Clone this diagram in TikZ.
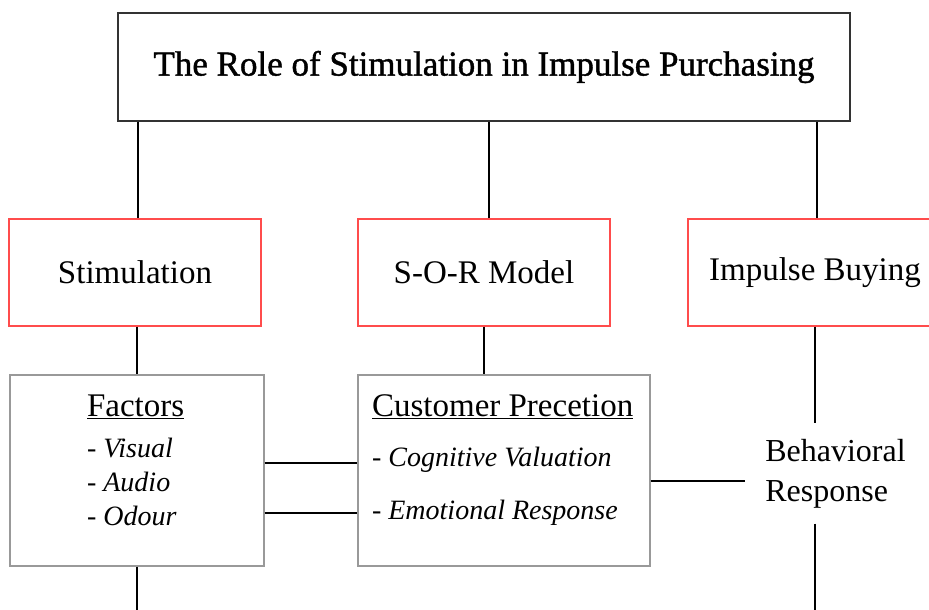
\documentclass[tikz,border=0pt]{standalone}
\usepackage{fontspec}
\setmainfont{Liberation Serif}
\newfontface\titlefont{Liberation Serif}[FakeBold=1.2]
\usetikzlibrary{positioning}
\tikzset{redbox/.style={draw=red!70!white,line width=1.3pt,rectangle,minimum width=252pt,minimum height=107pt,font=\fontsize{33}{40}\selectfont}}
\tikzset{greybox/.style={draw=black!40,line width=1.2pt,rectangle,minimum height=191pt}}
\tikzset{lst/.style={align=left,inner sep=0pt,font=\fontsize{28}{34}\selectfont}}

\begin{document}
\begin{tikzpicture}[x=1pt,y=-1pt,line width=1.3pt]
\clip (0,0) rectangle (929,610);
\node[draw=black!80,minimum width=732pt,minimum height=108pt,font=\titlefont\fontsize{35}{40}\selectfont] (title) at (484,67) {The Role of Stimulation in Impulse Purchasing};
\node[redbox] (stim) at (135,272.5) {Stimulation};
\node[redbox] (sor) at (484,272.5) {S-O-R Model};
\node[redbox,minimum width=254pt] (imp) at (815,272.5) {Impulse Buying};
\node[greybox,minimum width=254pt] (fac) at (137,470.5) {};
\node[greybox,minimum width=292pt] (cp) at (504,470.5) {};
\node[lst,below right=20pt and 77pt of fac.north west] (factxt)
  {{\fontsize{33}{40}\selectfont\underline{Factors}}\\[7pt]\textit{- Visual}\\\textit{- Audio}\\\textit{- Odour}};
\node[lst,font=\fontsize{28}{53}\selectfont,below right=20pt and 14pt of cp.north west] (cptxt)
  {{\fontsize{33}{40}\selectfont\underline{Customer Precetion}}\\[-3pt]\textit{- Cognitive Valuation}\\\textit{- Emotional Response}};
\node[align=left,inner xsep=20pt,inner ysep=15pt,font=\fontsize{32}{40}\selectfont] (beh) at (835.5,473.5) {Behavioral\\Response};
\coordinate (fend) at (fac.south |- 0,615);
\coordinate (bend) at (imp.south |- 0,615);
\draw ([xshift=3pt]title.south -| stim.north) -- ([xshift=3pt]stim.north);
\draw ([xshift=5pt]title.south -| sor.north) -- ([xshift=5pt]sor.north);
\draw ([xshift=2pt]title.south -| imp.north) -- ([xshift=2pt]imp.north);
\draw (fac.north |- stim.south) -- (fac.north);
\draw (sor.south) -- (sor.south |- cp.north);
\draw (imp.south) -- (imp.south |- beh.north);
\draw ([yshift=7.5pt]fac.east) -- ([yshift=7.5pt]fac.east -| cp.west);
\draw ([yshift=-42.5pt]fac.east) -- ([yshift=-42.5pt]fac.east -| cp.west);
\draw ([yshift=-10.5pt]cp.east) -- ([yshift=-10.5pt]cp.east -| beh.west);
\draw (fac.south) -- (fend);
\draw (imp.south |- beh.south) -- (bend);
\end{tikzpicture}
\end{document}
